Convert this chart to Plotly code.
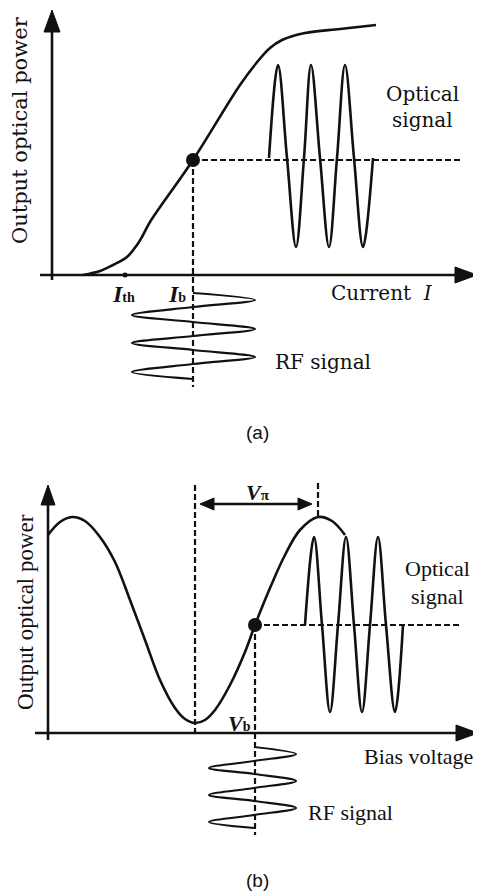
import plotly.graph_objects as go

# ---- panel (a): laser L-I curve (units: px-ish offsets from the axis origin)
LI_X = [31, 48, 61, 75, 85, 91, 98, 141, 188, 206, 218, 230, 253, 288, 324]
LI_Y = [0, 4, 10, 18, 30, 40, 53, 115, 190, 214, 227, 235, 242, 246, 250]
BIAS_A = (141, 115)
ITH_X = 73

OPT_A_X = [217, 226, 235, 244, 252, 259, 268, 277, 285, 293, 302, 311, 321]
OPT_A_Y = [117, 210, 117, 28, 117, 210, 117, 28, 117, 210, 117, 28, 117]

RF_A_X = [141, 203, 141, 80, 141, 203, 141, 80, 141, 203, 141, 80, 141]
RF_A_Y = [-18, -25, -32, -40, -47, -54, -61, -68, -75, -82, -89, -97, -104]

# ---- panel (b): modulator transfer curve
MZ_X = [0, 12, 24, 37, 52, 67, 82, 97, 112, 127, 137, 147, 157, 167, 182, 197, 207, 222, 237, 252, 270, 284, 297]
MZ_Y = [198, 211, 216, 212, 196, 171, 133, 93, 53, 25, 14, 10, 13, 23, 48, 81, 108, 145, 178, 203, 216, 212, 198]
BIAS_B = (207, 108)
NULL_X = 147
PEAK_X = 270

OPT_B_X = [257, 266, 274, 282, 290, 298, 306, 314, 322, 330, 338, 347, 355]
OPT_B_Y = [108, 196, 108, 21, 108, 196, 108, 21, 108, 196, 108, 21, 108]

RF_B_X = [206, 248, 206, 161, 206, 248, 206, 161, 206, 248, 206, 161, 206]
RF_B_Y = [-14, -21, -28, -35, -41, -48, -55, -62, -68, -75, -82, -89, -95]

# the page body has an 8px margin, so the figure is shrunk by it and the ranges shifted
PAD = 8
W, H = 481 - PAD, 896 - PAD
SPLIT = 1 - (448 - PAD) / H
BLACK = "#111111"
SERIF_A = "DejaVu Serif"
SERIF_B = "Liberation Serif, Times New Roman, serif"

fig = go.Figure()


def line(x, y, ax, width=2.6, dash=None, shape="linear"):
    xa, ya = ("x", "y") if ax == "a" else ("x2", "y2")
    fig.add_trace(go.Scatter(x=x, y=y, mode="lines", xaxis=xa, yaxis=ya,
                             line=dict(color=BLACK, width=width, dash=dash, shape=shape, smoothing=1.0),
                             hoverinfo="skip", showlegend=False))


def head(tx, ty, d, ax, length=22, half=8):
    # filled triangular arrow head, tip at (tx, ty)
    dx, dy = {"up": (0, -1), "right": (-1, 0), "left": (1, 0)}[d]
    bx, by = tx + dx * length, ty + dy * length
    px, py = -dy * half, dx * half
    xa, ya = ("x", "y") if ax == "a" else ("x2", "y2")
    fig.add_trace(go.Scatter(x=[tx, bx + px, bx - px, tx], y=[ty, by + py, by - py, ty],
                             mode="lines", fill="toself", fillcolor=BLACK, xaxis=xa, yaxis=ya,
                             line=dict(color=BLACK, width=1), hoverinfo="skip", showlegend=False))


def text(x, y, s, ax, size, family, angle=0):
    xa, ya = ("x", "y") if ax == "a" else ("x2", "y2")
    fig.add_annotation(x=x, y=y, xref=xa, yref=ya, text=s, showarrow=False, textangle=angle,
                       font=dict(size=size, family=family, color=BLACK))


DASH = "6px,3px"

# ---------- panel (a)
line([0, 0], [-5, 250], "a", 2.6)
head(0, 265, "up", "a", 22, 8)
line([-12, 410], [0, 0], "a", 2.6)
head(425, 0, "right", "a", 22, 8)
line(LI_X, LI_Y, "a", 2.6, shape="spline")
line([BIAS_A[0], 411], [BIAS_A[1], BIAS_A[1]], "a", 2.2, DASH)
line([BIAS_A[0], BIAS_A[0]], [BIAS_A[1], -112], "a", 2.2, DASH)
line(OPT_A_X, OPT_A_Y, "a", 2.6, shape="spline")
line(RF_A_X, RF_A_Y, "a", 2.2, shape="spline")
fig.add_trace(go.Scatter(x=[BIAS_A[0]], y=[BIAS_A[1]], mode="markers", xaxis="x", yaxis="y",
                         marker=dict(size=14, color=BLACK), hoverinfo="skip", showlegend=False))
fig.add_trace(go.Scatter(x=[ITH_X], y=[0], mode="markers", xaxis="x", yaxis="y",
                         marker=dict(size=5, color=BLACK), hoverinfo="skip", showlegend=False))

text(-32, 145, "Output optical power", "a", 21, SERIF_A, -90)
text(370, 181, "Optical", "a", 20, SERIF_A)
text(370, 155, "signal", "a", 20, SERIF_A)
text(330, -18, "Current  <i>I</i>", "a", 20, SERIF_A)
text(271, -87, "RF signal", "a", 20, SERIF_A)
text(71, -19, "<b><i>I</i></b><span style='font-size:14px'><b>th</b></span>", "a", 24, SERIF_B)
text(125, -19, "<b><i>I</i></b><span style='font-size:14px'><b>b</b></span>", "a", 24, SERIF_B)
text(205, -157, "(a)", "a", 19, "Liberation Sans Narrow, Liberation Sans, Arial")

# ---------- panel (b)
line([0, 0], [-7, 232], "b", 2.6)
head(0, 248, "up", "b", 20, 7)
line([-13, 412], [0, 0], "b", 2.6)
head(430, 0, "right", "b", 22, 8)
line(MZ_X, MZ_Y, "b", 2.6, shape="spline")
line([NULL_X, NULL_X], [248, 0], "b", 2.2, DASH)
line([PEAK_X, PEAK_X], [250, 216], "b", 2.2, DASH)
line([BIAS_B[0], 412], [BIAS_B[1], BIAS_B[1]], "b", 2.2, DASH)
line([BIAS_B[0], BIAS_B[0]], [BIAS_B[1], -102], "b", 2.2, DASH)
line([164, 252], [229, 229], "b", 2.4)
head(152, 229, "left", "b", 14, 6)
head(264, 229, "right", "b", 14, 6)
line(OPT_B_X, OPT_B_Y, "b", 2.6, shape="spline")
line(RF_B_X, RF_B_Y, "b", 2.2, shape="spline")
fig.add_trace(go.Scatter(x=[BIAS_B[0]], y=[BIAS_B[1]], mode="markers", xaxis="x2", yaxis="y2",
                         marker=dict(size=14, color=BLACK), hoverinfo="skip", showlegend=False))

text(-23, 121, "Output optical power", "b", 23, SERIF_B, -90)
text(389, 165, "Optical", "b", 22, SERIF_B)
text(389, 137, "signal", "b", 22, SERIF_B)
text(370, -23, "Bias voltage", "b", 22, SERIF_B)
text(302, -79, "RF signal", "b", 22, SERIF_B)
text(210, 241, "<b><i>V</i></b><span style='font-size:15px'><b>π</b></span>", "b", 22, SERIF_B)
text(191, 10, "<b><i>V</i></b><span style='font-size:14px'><b>b</b></span>", "b", 22, SERIF_B)
text(209, -147, "(b)", "b", 19, "Liberation Sans Narrow, Liberation Sans, Arial")

hidden = dict(visible=False, showgrid=False, zeroline=False, fixedrange=True)
fig.update_layout(
    width=W, height=H, autosize=False,
    margin=dict(l=0, r=0, t=0, b=0),
    paper_bgcolor="white", plot_bgcolor="white",
    xaxis=dict(domain=[0, 1], range=[-52 + PAD, 429], anchor="y", **hidden),
    yaxis=dict(domain=[SPLIT, 1], range=[-173, 275 - PAD], anchor="x", **hidden),
    xaxis2=dict(domain=[0, 1], range=[-48 + PAD, 433], anchor="y2", **hidden),
    yaxis2=dict(domain=[0, SPLIT], range=[-163, 285], anchor="x2", **hidden),
)

fig.write_html("out.html")
